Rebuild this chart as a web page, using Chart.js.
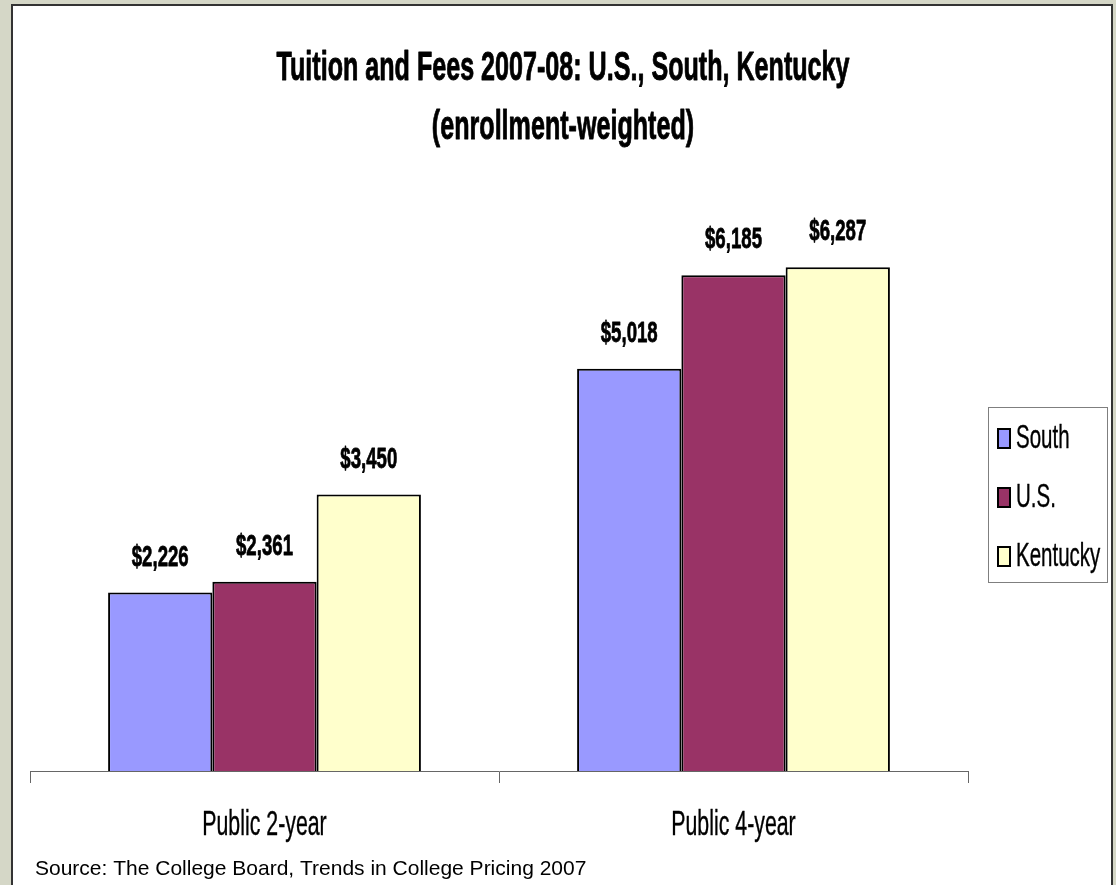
<!DOCTYPE html>
<html>
<head>
<meta charset="utf-8">
<title>Tuition and Fees 2007-08</title>
<script src="https://cdn.jsdelivr.net/npm/chart.js@4.4.1/dist/chart.umd.min.js"></script>
<style>
    html, body {
        margin: 0;
        padding: 0;
        background: #d5d7c7;
        overflow: hidden;
    }
    #panel {
        position: absolute;
        left: 11px;
        top: 4px;
        width: 1098px;
        height: 900px;
        background: #ffffff;
        border: 2px solid #333333;
        border-bottom: none;
    }
    #tuitionChart {
        position: absolute;
        left: 0;
        top: 0;
    }
</style>
</head>
<body>
<div id="panel"></div>
<canvas id="tuitionChart" width="1116" height="885"></canvas>

<script>
const categories = ['Public 2-year', 'Public 4-year'];
const seriesNames = ['South', 'U.S.', 'Kentucky'];
const southValues = [2226, 5018];
const usValues = [2361, 6185];
const kentuckyValues = [3450, 6287];
const seriesColors = ['#9999ff', '#993366', '#ffffcc'];
const titleLines = ['Tuition and Fees 2007-08: U.S., South, Kentucky', '(enrollment-weighted)'];
const sourceNote = 'Source: The College Board, Trends in College Pricing 2007';

// Arial Narrow look: regular Arial squeezed sideways, a bit taller than normal.
// heavy = extra outline so bold text looks as dark as the old Excel export
function drawNarrow(ctx, text, x, y, font, sx, sy, align, heavy) {
    ctx.save();
    ctx.translate(x, y);
    ctx.scale(sx, sy);
    ctx.font = font;
    ctx.textAlign = align || 'center';
    ctx.textBaseline = 'alphabetic';
    ctx.fillStyle = '#000000';
    ctx.fillText(text, 0, 0);
    if (heavy) {
        ctx.strokeStyle = '#000000';
        ctx.lineWidth = heavy;
        ctx.lineJoin = 'round';
        ctx.strokeText(text, 0, 0);
    }
    ctx.restore();
}

function formatDollars(v) {
    return '$' + v.toLocaleString('en-US');
}

const textPlugin = {
    id: 'textPlugin',
    afterDraw(chart) {
        const ctx = chart.ctx;
        const xScale = chart.scales.x;
        const boldFont = 'bold 31px "Liberation Sans", Arial, sans-serif';

        // title, two lines
        drawNarrow(ctx, titleLines[0], 563, 80, boldFont, 0.81, 1.3, 'center', 0.7);
        drawNarrow(ctx, titleLines[1], 563, 139, boldFont, 0.81, 1.3, 'center', 0.7);

        // value above each bar
        chart.data.datasets.forEach((ds, di) => {
            const meta = chart.getDatasetMeta(di);
            meta.data.forEach((bar, i) => {
                drawNarrow(ctx, formatDollars(ds.data[i]), bar.x, bar.y - 27,
                    'bold 23px "Liberation Sans", Arial, sans-serif', 0.81, 1.3, 'center', 0.6);
            });
        });

        // category names under the axis
        categories.forEach((c, i) => {
            drawNarrow(ctx, c, xScale.getPixelForValue(i), 835,
                '26px "Liberation Sans", Arial, sans-serif', 0.82, 1.32, 'center', 0.3);
        });

        // legend box on the right
        ctx.save();
        ctx.strokeStyle = '#7f7f7f';
        ctx.lineWidth = 1;
        ctx.strokeRect(988.5, 407.5, 119, 175);
        ctx.restore();
        chart.data.datasets.forEach((ds, di) => {
            const baseY = 448 + di * 59;
            ctx.save();
            ctx.fillStyle = ds.backgroundColor;
            ctx.strokeStyle = '#000000';
            ctx.lineWidth = 2;
            ctx.fillRect(998, baseY - 19, 12, 19);
            ctx.strokeRect(998, baseY - 19, 12, 19);
            ctx.restore();
            drawNarrow(ctx, ds.label, 1016, baseY, '25px "Liberation Sans", Arial, sans-serif', 0.82, 1.36, 'left', 0.3);
        });

        // source line
        ctx.save();
        ctx.font = '21px "Liberation Sans", Arial, sans-serif';
        ctx.fillStyle = '#000000';
        ctx.textAlign = 'left';
        ctx.textBaseline = 'alphabetic';
        ctx.fillText(sourceNote, 35, 875);
        ctx.restore();
    }
};

function initChart() {
    const ctx = document.getElementById('tuitionChart').getContext('2d');
    const valueSets = [southValues, usValues, kentuckyValues];

    new Chart(ctx, {
        type: 'bar',
        data: {
            labels: categories,
            datasets: seriesNames.map((name, i) => ({
                label: name,
                data: valueSets[i],
                backgroundColor: seriesColors[i],
                borderColor: '#000000',
                borderWidth: 2,
                categoryPercentage: 0.667,
                barPercentage: 1.0
            }))
        },
        options: {
            responsive: false,
            animation: false,
            layout: {
                padding: { left: 30, right: 148, top: 210, bottom: 102 }
            },
            plugins: {
                legend: { display: false },
                title: { display: false },
                tooltip: { enabled: false }
            },
            scales: {
                x: {
                    offset: true,
                    grid: {
                        offset: true,
                        drawOnChartArea: false,
                        drawTicks: true,
                        tickLength: 12,
                        color: '#666666'
                    },
                    border: { display: true, color: '#666666', width: 1 },
                    ticks: { display: false },
                    afterFit(scale) { scale.height = 12; }
                },
                y: {
                    display: false,
                    min: 0,
                    max: 7000
                }
            }
        },
        plugins: [textPlugin]
    });
}

window.onload = initChart;
</script>
</body>
</html>
